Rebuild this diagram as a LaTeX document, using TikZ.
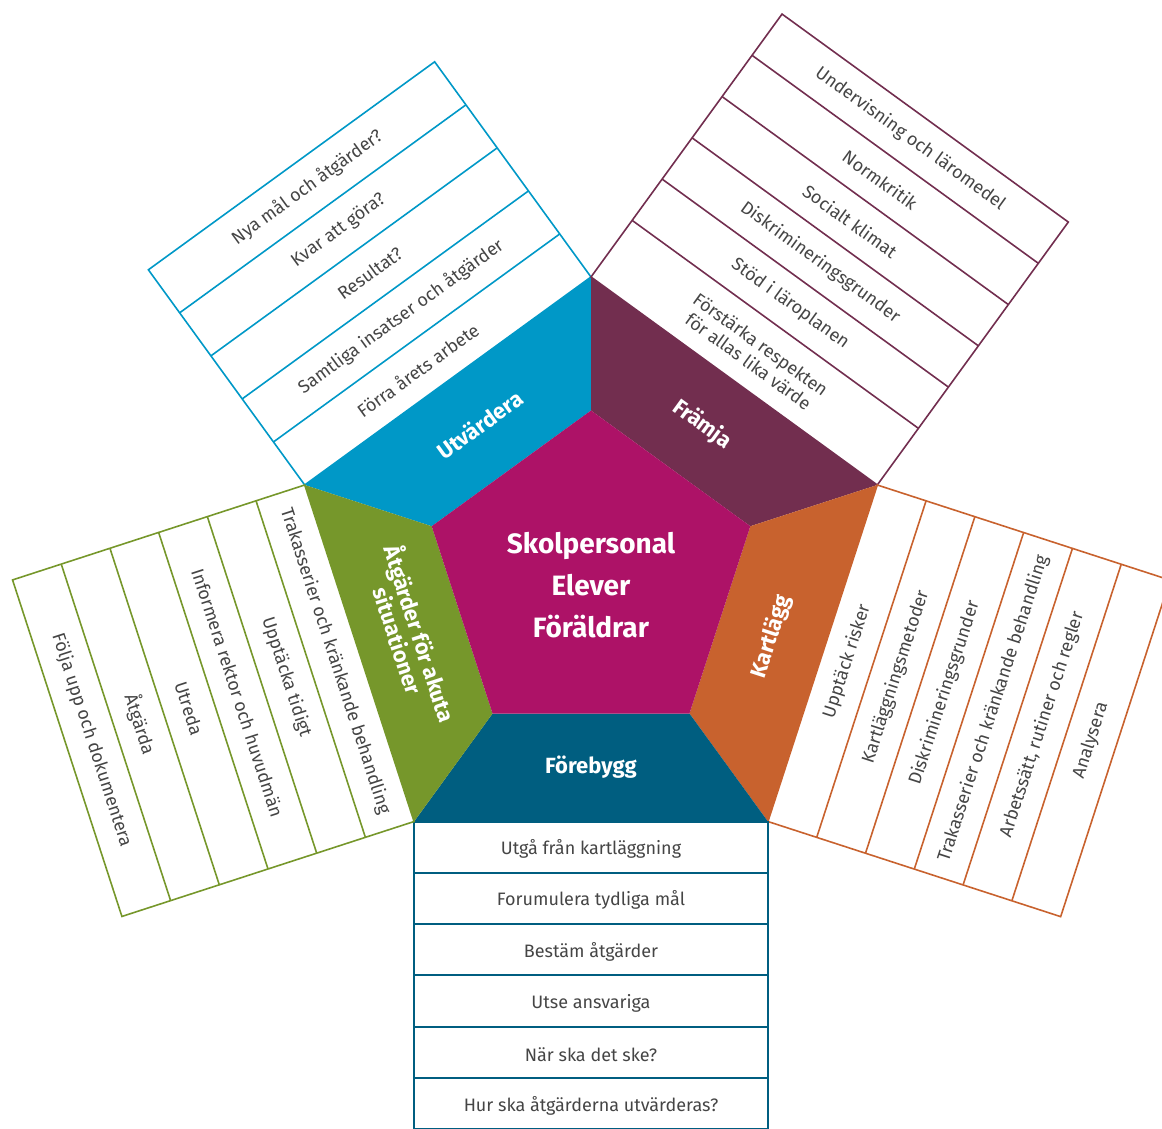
\documentclass[tikz,border=0pt]{standalone}
\usepackage{fontspec}
\setmainfont{Fira Sans}
\usetikzlibrary{calc}
\definecolor{cUtv}{HTML}{0098C7}
\definecolor{cFra}{HTML}{722E4F}
\definecolor{cKar}{HTML}{C8622E}
\definecolor{cFor}{HTML}{005E80}
\definecolor{cAtg}{HTML}{76972B}
\definecolor{cMid}{HTML}{AD1267}
\definecolor{cTxt}{HTML}{454545}
\tikzset{
  striptext/.style={text=cTxt,font=\fontsize{18}{21}\selectfont,inner sep=0pt,align=center},
  sectitle/.style={text=white,font=\fontsize{22}{23}\selectfont\bfseries,inner sep=0pt,align=center},
  midtext/.style={text=white,font=\fontsize{28}{42}\selectfont\bfseries,inner sep=0pt,align=center},
  boxline/.style={line width=1.6pt,line join=miter},
}
\begin{document}
\begin{tikzpicture}[x=1pt,y=1pt]
\useasboundingbox (0,0) rectangle (1162,-1129);
\clip (0,0) rectangle (1162,-1129);
\coordinate (C) at (591,-578);
\foreach \a/\n in {90/t,162/l,234/bl,306/br,18/r}{
  \coordinate (i\n) at ($(C)+(\a:167.5)$);
  \coordinate (o\n) at ($(C)+(\a:301)$);
}
% trapezoids and centre
\fill[cUtv] (il) -- (it) -- (ot) -- (ol) -- cycle;
\fill[cFra] (it) -- (ir) -- (or) -- (ot) -- cycle;
\fill[cKar] (ir) -- (ibr) -- (obr) -- (or) -- cycle;
\fill[cFor] (ibr) -- (ibl) -- (obl) -- (obr) -- cycle;
\fill[cAtg] (ibl) -- (il) -- (ol) -- (obl) -- cycle;
\fill[cMid] (it) -- (il) -- (ibl) -- (ibr) -- (ir) -- cycle;
\node[midtext] (mid) at (591,-585) {Skolpersonal\\Elever\\Föräldrar};

% titles
\node[sectitle,rotate=36] (tUtv) at ($(C)+(126:189.5)$) {Utvärdera};
\node[sectitle,rotate=-36] (tFra) at ($(C)+(54:189.5)$) {Främja};
\node[sectitle,rotate=72] (tKar) at ($(C)+(-18:189.5)$) {Kartlägg};
\node[sectitle] (tFor) at ($(C)+(270:189.5)$) {Förebygg};
\node[sectitle,rotate=-72] (tAtg) at ($(C)+(198:189.5)$) {Åtgärder för akuta\\situationer};

% Utvärdera
\draw[cUtv,boxline] (ol) -- (ot) -- ($(ot)+(126:266)$) -- ($(ol)+(126:266)$) -- cycle;
\foreach \s in {53.2,106.4,159.6,212.8}{\draw[cUtv,boxline] ($(ol)+(126:\s)$) -- ($(ot)+(126:\s)$);}
\foreach \d/\o/\txt [count=\k] in {270.1/-18/Förra årets arbete,323.3/0/Samtliga insatser och åtgärder,376.5/0/Resultat?,429.7/0/Kvar att göra?,482.9/0/Nya mål och åtgärder?}{
  \node[striptext,rotate=36] (utv\k) at ($(C)+(126:\d)+(36:\o)$) {\txt};}

% Främja
\draw[cFra,boxline] (ot) -- (or) -- ($(or)+(54:325)$) -- ($(ot)+(54:325)$) -- cycle;
\foreach \s in {70,121,172,223,274}{\draw[cFra,boxline] ($(ot)+(54:\s)$) -- ($(or)+(54:\s)$);}
\foreach \d/\txt [count=\k] in {278.5/{Förstärka respekten\\för allas lika värde},339/Stöd i läroplanen,390/Diskrimineringsgrunder,441/Socialt klimat,492/Normkritik,543/Undervisning och läromedel}{
  \node[striptext,rotate=-36] (fra\k) at ($(C)+(54:\d)$) {\txt};}

% Kartlägg
\draw[cKar,boxline] (or) -- (obr) -- ($(obr)+(-18:307.8)$) -- ($(or)+(-18:307.8)$) -- cycle;
\foreach \s in {51.3,102.6,153.9,205.2,256.5}{\draw[cKar,boxline] ($(or)+(-18:\s)$) -- ($(obr)+(-18:\s)$);}
\foreach \d/\txt [count=\k] in {269.15/Upptäck risker,320.45/Kartläggningsmetoder,371.75/Diskrimineringsgrunder,423.05/Trakasserier och kränkande behandling,474.35/{Arbetssätt, rutiner och regler},525.65/Analysera}{
  \node[striptext,rotate=72] (kar\k) at ($(C)+(-18:\d)$) {\txt};}

% Förebygg
\draw[cFor,boxline,line width=2pt] (obr) -- (obl) -- ($(obl)+(270:307.8)$) -- ($(obr)+(270:307.8)$) -- cycle;
\foreach \s in {51.3,102.6,153.9,205.2,256.5}{\draw[cFor,boxline,line width=2pt] ($(obl)+(270:\s)$) -- ($(obr)+(270:\s)$);}
\foreach \d/\txt [count=\k] in {271/Utgå från kartläggning,322.3/Forumulera tydliga mål,373.6/Bestäm åtgärder,424.9/Utse ansvariga,476.2/När ska det ske?,527.5/Hur ska åtgärderna utvärderas?}{
  \node[striptext] (for\k) at ($(C)+(270:\d)$) {\txt};}

% Åtgärder
\draw[cAtg,boxline] (obl) -- (ol) -- ($(ol)+(198:307.2)$) -- ($(obl)+(198:307.2)$) -- cycle;
\foreach \s in {51.2,102.4,153.6,204.8,256}{\draw[cAtg,boxline] ($(ol)+(198:\s)$) -- ($(obl)+(198:\s)$);}
\foreach \d/\txt [count=\k] in {269.1/Trakasserier och kränkande behandling,320.3/Upptäcka tidigt,371.5/Informera rektor och huvudmän,422.7/Utreda,473.9/Åtgärda,525.1/Följa upp och dokumentera}{
  \node[striptext,rotate=-72] (atg\k) at ($(C)+(198:\d)$) {\txt};}
\end{tikzpicture}
\end{document}
